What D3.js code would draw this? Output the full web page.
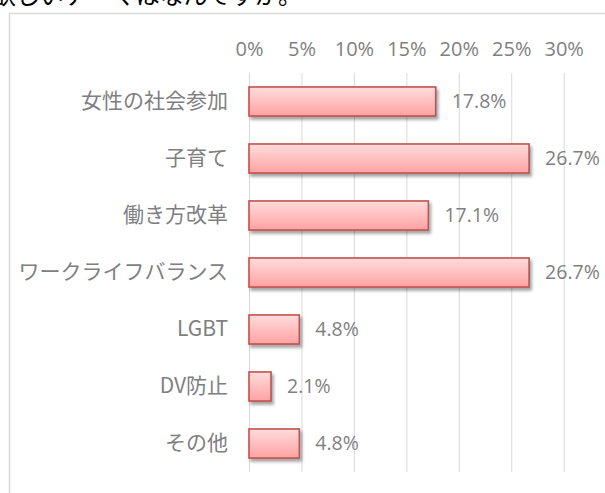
<!DOCTYPE html>
<html>
<head>
<meta charset="utf-8">
<script src="https://cdn.jsdelivr.net/npm/d3@7"></script>
<style>
  body { margin: 0; background: #fff; overflow: hidden; }
</style>
</head>
<body>
<div id="Data_Graph"></div>
<script>
// data
var categories = ["女性の社会参加", "子育て", "働き方改革", "ワークライフバランス", "LGBT", "DV防止", "その他"];
var values = [17.8, 26.7, 17.1, 26.7, 4.8, 2.1, 4.8];
var tickValues = [0, 5, 10, 15, 20, 25, 30];
var titleText = "欲しいテーマはなんですか。";

var width = 605, height = 493;

var svg = d3.select("#Data_Graph")
  .append("svg")
    .attr("width", width)
    .attr("height", height);

// gradient + shadow for the bars
var defs = svg.append("defs");
var grad = defs.append("linearGradient")
    .attr("id", "barFill")
    .attr("x1", 0).attr("y1", 0).attr("x2", 0).attr("y2", 1);
grad.append("stop").attr("offset", "0%").attr("stop-color", "#ffdcdc");
grad.append("stop").attr("offset", "100%").attr("stop-color", "#ffa2a2");

var shadow = defs.append("filter")
    .attr("id", "barShadow")
    .attr("x", "-10%").attr("y", "-20%")
    .attr("width", "130%").attr("height", "160%");
shadow.append("feDropShadow")
    .attr("dx", 2).attr("dy", 3)
    .attr("stdDeviation", 1.6)
    .attr("flood-color", "#000")
    .attr("flood-opacity", 0.35);

// heading, cut off at the top edge like in the source
svg.append("text")
    .attr("x", 302)
    .attr("y", 4)
    .attr("text-anchor", "end")
    .style("font-family", "'Noto Sans CJK JP', sans-serif")
    .style("font-size", "24px")
    .style("fill", "#000")
    .text(titleText);

// chart frame, runs off the right and bottom
svg.append("rect")
    .attr("x", 9.5)
    .attr("y", 13.5)
    .attr("width", 700)
    .attr("height", 600)
    .style("fill", "none")
    .style("stroke", "#d9d9d9")
    .style("stroke-width", 1.5);

// scales
var x = d3.scaleLinear()
  .domain([0, 30])
  .range([249, 563.7]);

var y = d3.scaleBand()
  .domain(categories)
  .range([73, 472])
  .paddingInner(0.49)
  .paddingOuter(0.245);

// gridlines + top labels via a top axis
var xAxis = svg.append("g")
    .attr("transform", "translate(0,73)")
    .call(d3.axisTop(x)
      .tickValues(tickValues)
      .tickSize(-(472 - 73))
      .tickPadding(17)
      .tickFormat(function (d) { return d + "%"; }));

xAxis.select(".domain").remove();
xAxis.selectAll("line")
    .style("stroke", "#d9d9d9")
    .style("stroke-width", 1);
xAxis.selectAll("text")
    .style("font-family", "'Open Sans', sans-serif")
    .style("font-size", "20px")
    .style("fill", "#7f7f7f");

// category labels
var yAxis = svg.append("g")
    .attr("transform", "translate(249,0)")
    .call(d3.axisLeft(y).tickSize(0).tickPadding(21));

yAxis.select(".domain").remove();
yAxis.selectAll("text")
    .style("font-family", "'Noto Sans CJK JP', sans-serif")
    .style("font-size", "21px")
    .style("fill", "#7f7f7f");

// bars
svg.append("g")
  .selectAll("rect")
  .data(values)
  .enter()
  .append("rect")
    .attr("x", x(0))
    .attr("y", function (d, i) { return y(categories[i]); })
    .attr("width", function (d) { return x(d) - x(0); })
    .attr("height", y.bandwidth())
    .style("fill", "url(#barFill)")
    .style("stroke", "#c0504d")
    .style("stroke-width", 1.6)
    .attr("filter", "url(#barShadow)");

// value labels
svg.append("g")
  .selectAll("text")
  .data(values)
  .enter()
  .append("text")
    .attr("x", function (d) { return x(d) + 16; })
    .attr("y", function (d, i) { return y(categories[i]) + y.bandwidth() / 2; })
    .attr("dy", "0.35em")
    .style("font-family", "'Open Sans', sans-serif")
    .style("font-size", "19.5px")
    .style("fill", "#7f7f7f")
    .text(function (d) { return d.toFixed(1) + "%"; });
</script>
</body>
</html>
